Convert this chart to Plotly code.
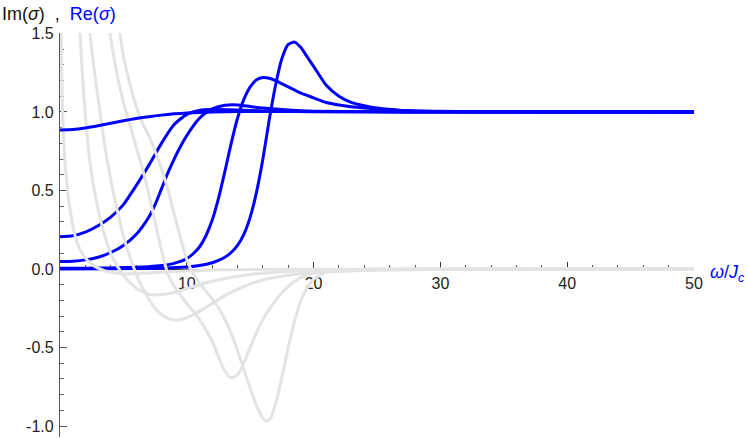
import plotly.graph_objects as go

# Re(sigma) curves (blue)
re_a_x = [0, 1, 2, 3, 4, 5, 6, 7, 8, 9, 10, 12, 14, 17, 20, 25, 30, 40, 50]
re_a_y = [0.885, 0.888, 0.898, 0.912, 0.928, 0.944, 0.958, 0.970, 0.980, 0.988, 0.994, 1.000,
          1.003, 1.003, 1.002, 1.001, 1.0, 1.0, 1.0]

re_b_x = [0, 1, 2, 3, 4, 5, 6, 7, 8, 9, 10, 11, 12, 14, 16, 20, 25, 30, 40, 50]
re_b_y = [0.205, 0.212, 0.235, 0.275, 0.33, 0.41, 0.53, 0.66, 0.80, 0.92, 0.985, 1.01, 1.015,
          1.012, 1.007, 1.003, 1.001, 1.0, 1.0, 1.0]

re_c_x = [0, 1, 2, 3, 4, 5, 6, 7, 7.5, 8, 8.5, 9, 9.5, 10, 10.5, 11, 11.5, 12, 13, 14, 15, 16,
          18, 20, 25, 30, 50]
re_c_y = [0.047, 0.050, 0.058, 0.075, 0.105, 0.15, 0.22, 0.33, 0.41, 0.51, 0.61, 0.70, 0.78,
          0.85, 0.91, 0.96, 0.995, 1.02, 1.043, 1.045, 1.035, 1.025, 1.012, 1.005, 1.001, 1.0, 1.0]

re_d_x = [0, 2, 4, 6, 7, 8, 9, 9.5, 10, 10.5, 11, 11.5, 12, 12.5, 13, 13.5, 14, 14.5, 15, 15.5,
          16, 16.5, 17, 18, 19, 20, 21, 22, 24, 26, 30, 35, 50]
re_d_y = [0.004, 0.005, 0.007, 0.011, 0.015, 0.022, 0.036, 0.048, 0.066, 0.097, 0.14, 0.21, 0.31,
          0.45, 0.62, 0.80, 0.96, 1.08, 1.16, 1.205, 1.22, 1.215, 1.20, 1.16, 1.12, 1.09, 1.06,
          1.045, 1.025, 1.013, 1.004, 1.001, 1.0]

re_e_x = [0, 4, 8, 10, 11, 12, 12.5, 13, 13.5, 14, 14.5, 15, 15.5, 16, 16.5, 17, 17.5, 18, 18.5,
          19, 19.5, 20, 21, 22, 23, 24, 25, 27, 30, 35, 50]
re_e_y = [0.0, 0.001, 0.005, 0.012, 0.022, 0.04, 0.055, 0.075, 0.105, 0.15, 0.22, 0.33, 0.49,
          0.70, 0.95, 1.17, 1.34, 1.43, 1.445, 1.41, 1.35, 1.29, 1.17, 1.10, 1.06, 1.04, 1.025,
          1.01, 1.003, 1.001, 1.0]

# Im(sigma) curves (gray)
im_0_x = [0.1, 0.15, 0.2, 0.3, 0.4, 0.55, 0.7, 0.85, 1.0, 1.3, 1.6, 2, 2.5, 3, 3.5, 4, 5, 6, 7,
          8, 10, 12, 15, 20, 50]
im_0_y = [1.5, 1.2, 1.0, 0.8, 0.67, 0.54, 0.43, 0.35, 0.28, 0.18, 0.12, 0.07, 0.03, 0.005, -0.01,
          -0.02, -0.03, -0.03, -0.025, -0.02, -0.012, -0.007, -0.003, -0.001, 0.0]

im_1_x = [1.5, 1.58, 1.8, 2.0, 2.2, 2.5, 3, 3.5, 4, 4.5, 5, 5.5, 6, 6.5, 7, 7.5, 8, 9, 10, 11,
          12, 13, 15, 17, 20, 25, 30, 50]
im_1_y = [1.62, 1.5, 1.2, 0.98, 0.8, 0.6, 0.38, 0.22, 0.1, 0.02, -0.04, -0.085, -0.12, -0.145,
          -0.16, -0.165, -0.163, -0.15, -0.125, -0.1, -0.078, -0.06, -0.035, -0.02, -0.01,
          -0.004, -0.002, 0.0]

im_2_x = [2.3, 2.37, 2.6, 3, 3.5, 4, 4.5, 5, 5.5, 6, 6.5, 7, 7.5, 8, 8.5, 9, 9.5, 10, 11, 12,
          13, 14, 15, 16, 18, 20, 25, 30, 50]
im_2_y = [1.56, 1.5, 1.33, 1.09, 0.8, 0.57, 0.38, 0.21, 0.08, -0.03, -0.12, -0.19, -0.25, -0.29,
          -0.315, -0.325, -0.322, -0.31, -0.27, -0.22, -0.17, -0.13, -0.095, -0.07, -0.04,
          -0.023, -0.008, -0.003, 0.0]

im_3_x = [3.85, 3.94, 4.5, 5, 5.5, 6, 6.5, 7, 7.5, 8, 8.5, 9, 10, 11, 12, 12.5, 13, 13.4, 13.8,
          14.2, 14.7, 15.2, 15.7, 16.3, 17, 18, 19, 20, 22, 25, 50]
im_3_y = [1.56, 1.5, 1.24, 1.06, 0.92, 0.78, 0.64, 0.48, 0.3, 0.12, -0.03, -0.11, -0.22, -0.32,
          -0.46, -0.56, -0.65, -0.69, -0.685, -0.65, -0.56, -0.46, -0.37, -0.28, -0.2, -0.11,
          -0.055, -0.028, -0.008, -0.002, 0.0]

im_4_x = [4.65, 4.73, 5, 5.5, 6, 6.5, 7, 7.5, 8, 8.5, 9, 9.5, 10, 10.5, 11, 11.5, 12, 12.6, 13,
          13.5, 14, 14.5, 15, 15.5, 16, 16.3, 16.6, 17, 17.5, 18, 18.5, 19, 19.5, 20, 21, 22,
          25, 50]
im_4_y = [1.55, 1.5, 1.36, 1.18, 1.04, 0.93, 0.85, 0.75, 0.64, 0.51, 0.35, 0.2, 0.06, -0.03,
          -0.09, -0.14, -0.19, -0.26, -0.32, -0.41, -0.52, -0.64, -0.76, -0.87, -0.95, -0.97,
          -0.95, -0.86, -0.69, -0.5, -0.33, -0.2, -0.12, -0.065, -0.02, -0.007, -0.001, 0.0]

x_ticks = [10, 20, 30, 40, 50]
y_ticks = [-1.0, -0.5, 0.0, 0.5, 1.0, 1.5]
y_tick_labels = ["-1.0", "-0.5", "0.0", "0.5", "1.0", "1.5"]

BLUE = "#0000ff"
GRAY = "#e3e3e3"
FONT = "Liberation Sans, Arial, sans-serif"


def curve(xs, ys, color):
    return go.Scatter(x=xs, y=ys, mode="lines",
                      line=dict(color=color, width=3, shape="spline", smoothing=0.6))


fig = go.Figure()

for xs, ys in [(re_e_x, re_e_y), (re_d_x, re_d_y), (re_c_x, re_c_y), (re_b_x, re_b_y)]:
    fig.add_trace(curve(xs, ys, BLUE))

for xs, ys in [(im_0_x, im_0_y), (im_1_x, im_1_y), (im_2_x, im_2_y), (im_3_x, im_3_y), (im_4_x, im_4_y)]:
    fig.add_trace(curve(xs, ys, GRAY))

fig.add_trace(curve(re_a_x, re_a_y, BLUE))

y_min, y_max = -1.070, 1.503
zero_pos = -y_min / (y_max - y_min)

fig.update_layout(
    width=747, height=438,
    margin=dict(l=60, r=53, t=33, b=1),
    paper_bgcolor="white", plot_bgcolor="white",
    showlegend=False,
    font=dict(family=FONT, size=16, color="#222"),
    xaxis=dict(
        range=[0, 50], anchor="free", position=zero_pos, side="bottom", automargin=False,
        showgrid=False, zeroline=False, showline=True, linecolor="#333", linewidth=1.2,
        tickvals=x_ticks, ticks="inside", ticklen=7, tickcolor="#333", tickwidth=1,
        minor=dict(tick0=0, dtick=2, ticks="inside", ticklen=4, tickcolor="#555"),
        layer="below traces",
    ),
    yaxis=dict(
        range=[y_min, y_max], showgrid=False, zeroline=False, automargin=False,
        showline=True, linecolor="#555", linewidth=1.2,
        tickvals=y_ticks, ticktext=y_tick_labels, ticks="inside", ticklen=7,
        tickcolor="#555", tickwidth=1, ticklabelstandoff=2,
        minor=dict(tick0=0, dtick=0.1, ticks="inside", ticklen=4, tickcolor="#666"),
        layer="below traces",
    ),
)

fig.add_annotation(
    xref="paper", yref="paper", x=-60 / 634, y=1 + 19 / 404, xanchor="left", yanchor="middle",
    text="Im(<i>σ</i>)&nbsp;&nbsp;,&nbsp;&nbsp;<span style='color:#0000ff'>Re(<i>σ</i>)</span>",
    showarrow=False, font=dict(size=18, color="#111"),
)
fig.add_annotation(
    xref="paper", yref="y", x=1 + 14 / 634, y=-0.03, xanchor="left", yanchor="middle",
    text="<i>ω</i>/<i>J</i><sub><i>c</i></sub>",
    showarrow=False, font=dict(size=18, color=BLUE),
)

fig.write_html("out.html", config={"displayModeBar": False},
               post_script="document.body.style.margin='0px';")
